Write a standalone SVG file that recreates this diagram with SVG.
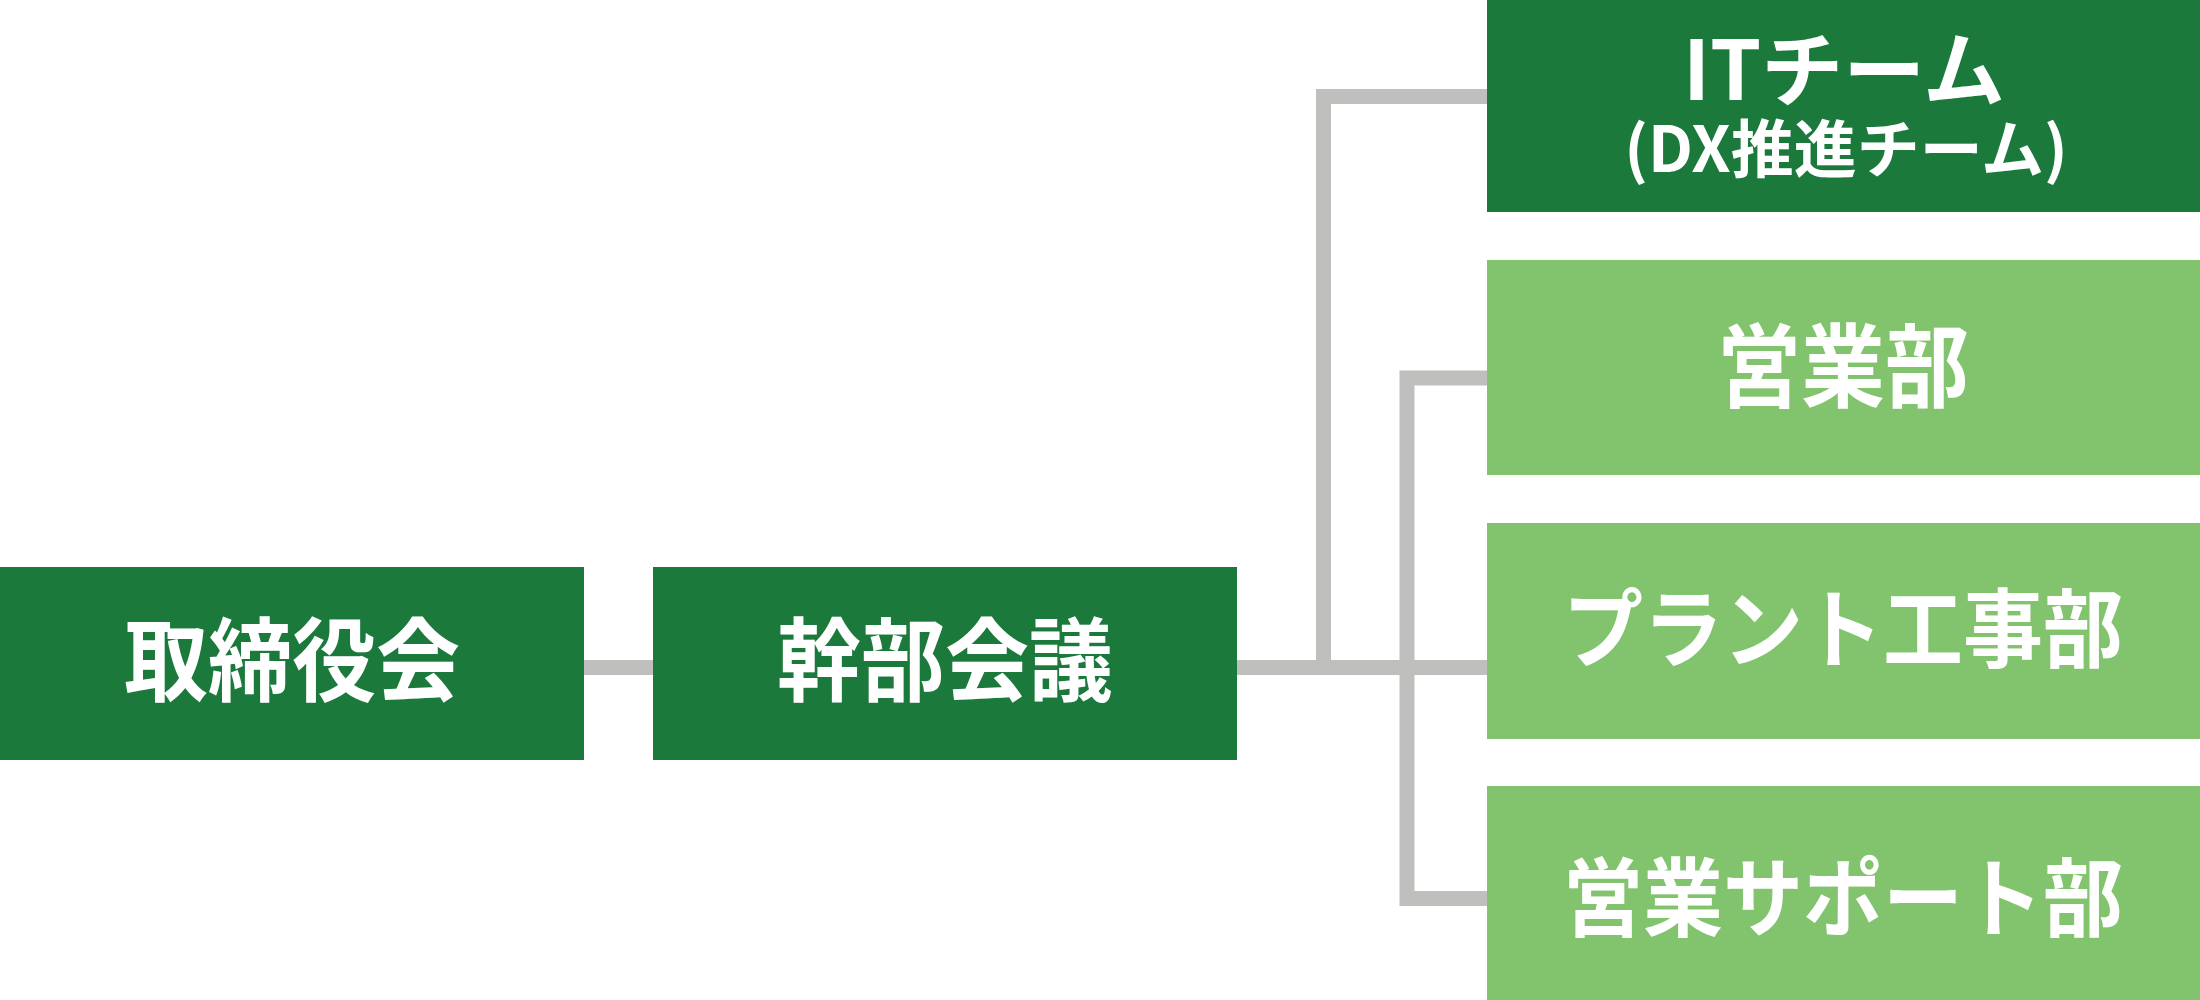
<svg xmlns="http://www.w3.org/2000/svg" width="2200" height="1000" viewBox="0 0 2200 1000">
<style>
.dark{fill:#1a793b}
.light{fill:#82c36e}
.t{fill:#ffffff;font-family:"Noto Sans CJK JP","Noto Sans",sans-serif;font-weight:700;text-anchor:middle;dominant-baseline:central}
.c{fill:none;stroke:#bfbfbd;stroke-width:15;stroke-linejoin:miter;stroke-linecap:butt}
</style>
<rect width="2200" height="1000" fill="#ffffff"/>
<g id="connectors">
<path class="c" d="M584 667.5H653"/>
<path class="c" d="M1237 667.5H1487"/>
<path class="c" d="M1487 96.5H1323.5V667.5"/>
<path class="c" d="M1487 378H1407V898.5H1487"/>
</g>
<g id="board">
<rect class="dark" x="0" y="567" width="584" height="193"/>
<text class="t" transform="translate(292 655) scale(1 1.08)" font-size="84">取締役会</text>
</g>
<g id="exec">
<rect class="dark" x="653" y="567" width="584" height="193"/>
<text class="t" transform="translate(945 655) scale(1 1.08)" font-size="84">幹部会議</text>
</g>
<g id="it">
<rect class="dark" x="1487" y="0" width="713" height="212"/>
<text class="t"><tspan x="1844" y="64" font-size="82">ITチーム</tspan><tspan x="1846" y="144" font-size="63">(DX推進チーム)</tspan></text>
</g>
<g id="sales">
<rect class="light" x="1487" y="260" width="713" height="215"/>
<text class="t" transform="translate(1843 361) scale(1 1.08)" font-size="84">営業部</text>
</g>
<g id="plant">
<rect class="light" x="1487" y="523" width="713" height="216"/>
<text class="t" transform="translate(1843 623) scale(1 1.08)" font-size="80">プラント工事部</text>
</g>
<g id="support">
<rect class="light" x="1487" y="786" width="713" height="214"/>
<text class="t" transform="translate(1843 892) scale(1 1.08)" font-size="80">営業サポート部</text>
</g>
</svg>
